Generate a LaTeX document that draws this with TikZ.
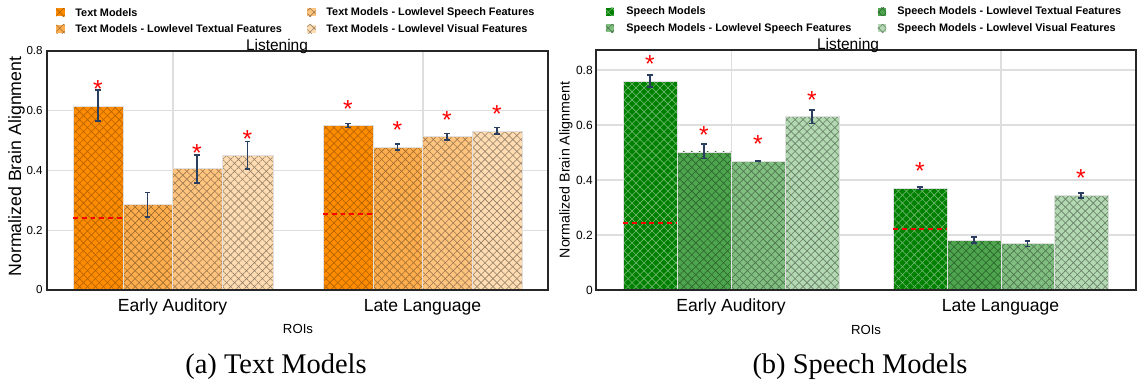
\documentclass[tikz,border=0pt]{standalone}
\usepackage{fontspec}
\setmainfont{Liberation Serif}
\setsansfont{Liberation Sans}
\usetikzlibrary{arrows.meta, patterns.meta}

\definecolor{textA}{RGB}{255,140,0}
\definecolor{textB}{RGB}{255,174,77}
\definecolor{textC}{RGB}{255,197,127}
\definecolor{textD}{RGB}{255,220,178}
\definecolor{speechA}{RGB}{0,128,0}
\definecolor{speechB}{RGB}{77,166,77}
\definecolor{speechC}{RGB}{128,191,128}
\definecolor{speechD}{RGB}{178,217,178}
\definecolor{errblue}{RGB}{42,63,95}
\definecolor{gridgray}{RGB}{222,222,222}

\newcommand{\hatchbar}[5]{%
  \fill [#4] (#1, 0) rectangle (#2, #3);
  \fill [hatchA, pattern color = #5] (#1, 0) rectangle (#2, #3);
  \fill [hatchB, pattern color = #5] (#1, 0) rectangle (#2, #3);
  \draw [barline] (#1, 0) rectangle (#2, #3);
}

\begin{document}
\begin{tikzpicture}[x = .02cm, y = -.02cm,
    hatchA/.style = {pattern = {Lines[angle = 45, distance = 3.2pt, line width = .35pt]}},
    hatchB/.style = {pattern = {Lines[angle = -45, distance = 3.2pt, line width = .35pt]}},
    barline/.style = {draw = white!88!black, line width = .5pt},
    gridline/.style = {draw = gridgray, line width = .6pt},
    plotframe/.style = {draw = black!85, line width = .6pt},
    errbar/.style = {draw = errblue, line width = 1pt, {Bar[width = 3.2pt]}-{Bar[width = 3.2pt]}},
    meanline/.style = {draw = red, line width = 1pt, dash pattern = on 2.8pt off 2.2pt},
    sig/.style = {red, inner sep = 0, anchor = base, yshift = -8.2pt, font = \sffamily\fontsize{14}{14}\selectfont},
    legmark/.style 2 args = {minimum size = 4.6pt, inner sep = 0, fill = #1,
      postaction = {hatchA, pattern color = #2}, postaction = {hatchB, pattern color = #2}},
    legtext/.style = {anchor = west, inner sep = 0, font = \sffamily\bfseries\fontsize{6.2}{7}\selectfont},
    tick/.style = {anchor = east, inner sep = 0, font = \sffamily\fontsize{#1}{8}\selectfont},
    axtitle/.style = {inner sep = 0, font = \sffamily\fontsize{#1}{12}\selectfont},
    cattext/.style = {anchor = base, inner sep = 0, font = \sffamily\fontsize{10}{12}\selectfont},
    caption/.style = {anchor = base, inner sep = 0, font = \fontsize{16.2}{18}\selectfont}]
  \useasboundingbox (0, 0) rectangle (1138, 382);

  % (a) text models
  \begin{scope}[shift = {(0, 290)}, yscale = -298.75]
    \draw [gridline] (47, .2) -- (548, .2);
    \draw [gridline] (47, .4) -- (548, .4);
    \draw [gridline] (47, .6) -- (548, .6);
    \draw [gridline] (173, 0) -- (173, .8);
    \draw [gridline] (423, 0) -- (423, .8);
    \hatchbar{73}{123}{.613}{textA}{textA!70!black}
    \hatchbar{123}{172}{.287}{textB}{textB!62!black}
    \hatchbar{172}{222}{.406}{textC}{textC!62!black}
    \hatchbar{222}{273}{.450}{textD}{textD!58!black}
    \hatchbar{323}{373}{.550}{textA}{textA!70!black}
    \hatchbar{373}{422}{.478}{textB}{textB!62!black}
    \hatchbar{422}{472}{.513}{textC}{textC!62!black}
    \hatchbar{472}{522}{.532}{textD}{textD!58!black}
    \draw [meanline] (73, .242) -- (123, .242);
    \draw [meanline] (323, .255) -- (373, .255);
    \draw [errbar] (98, .562) -- (98, .672);
    \draw [errbar] (147.5, .242) -- (147.5, .329);
    \draw [errbar] (197, .356) -- (197, .456);
    \draw [errbar] (247.5, .403) -- (247.5, .500);
    \draw [errbar] (348, .541) -- (348, .560);
    \draw [errbar] (397.5, .465) -- (397.5, .492);
    \draw [errbar] (447, .500) -- (447, .527);
    \draw [errbar] (497, .519) -- (497, .547);
    \draw [plotframe] (47, 0) rectangle (548, .8);
  \end{scope}

  \node (sa1) at (98, 83) [sig] {*};
  \node (sa3) at (197, 146.7) [sig] {*};
  \node (sa4) at (247.5, 133.3) [sig] {*};
  \node (sb1) at (348, 103.3) [sig] {*};
  \node (sb2) at (397.5, 124.3) [sig] {*};
  \node (sb3) at (447, 114) [sig] {*};
  \node (sb4) at (497, 108.3) [sig] {*};

  \node (ta0) at (43, 290) [tick = 6.6] {0};
  \node (ta2) at (43, 230.25) [tick = 6.6] {0.2};
  \node (ta4) at (43, 170.5) [tick = 6.6] {0.4};
  \node (ta6) at (43, 110.75) [tick = 6.6] {0.6};
  \node (ta8) at (43, 51) [tick = 6.6] {0.8};
  \node (ya) at (16.5, 166.5) [axtitle = 10.1, rotate = 90] {Normalized Brain Alignment};
  \node (titlea) at (277, 50) [axtitle = 8.8, anchor = base] {Listening};
  \node (ca1) at (172.5, 311) [cattext] {Early Auditory};
  \node (ca2) at (422.5, 311) [cattext] {Late Language};
  \node (xa) at (298, 333.5) [axtitle = 7.5, anchor = base] {ROIs};
  \node (capa) at (276, 373) [caption] {(a) Text Models};

  \node (la1) at (60.5, 12.3) [legmark = {textA}{textA!70!black}] {};
  \node (la2) at (60.5, 29) [legmark = {textB}{textB!62!black}] {};
  \node (la3) at (311.5, 12.3) [legmark = {textC}{textC!62!black}] {};
  \node (la4) at (311.5, 29) [legmark = {textD}{textD!58!black}] {};
  \node (lta1) at (75, 12.3) [legtext] {Text Models};
  \node (lta2) at (75, 29) [legtext] {Text Models - Lowlevel Textual Features};
  \node (lta3) at (326, 12.3) [legtext] {Text Models - Lowlevel Speech Features};
  \node (lta4) at (326, 29) [legtext] {Text Models - Lowlevel Visual Features};

  % (b) speech models
  \begin{scope}[shift = {(0, 290)}, yscale = -275]
    \draw [gridline] (596, .2) -- (1136, .2);
    \draw [gridline] (596, .4) -- (1136, .4);
    \draw [gridline] (596, .6) -- (1136, .6);
    \draw [gridline] (596, .8) -- (1136, .8);
    \draw [gridline] (731.5, 0) -- (731.5, .8727);
    \draw [gridline] (1001, 0) -- (1001, .8727);
    \hatchbar{623}{677}{.757}{speechA}{speechA!55!white}
    \hatchbar{677}{731}{.502}{speechB}{speechB!60!black}
    \hatchbar{731}{785}{.467}{speechC}{speechC!60!black}
    \hatchbar{785}{839}{.630}{speechD}{speechD!58!black}
    \hatchbar{893}{947}{.370}{speechA}{speechA!55!white}
    \hatchbar{947}{1001}{.181}{speechB}{speechB!60!black}
    \hatchbar{1001}{1054}{.168}{speechC}{speechC!60!black}
    \hatchbar{1054}{1108}{.344}{speechD}{speechD!58!black}
    \draw [meanline] (623, .245) -- (677, .245);
    \draw [meanline] (893, .222) -- (947, .222);
    \draw [errbar] (650, .736) -- (650, .784);
    \draw [errbar] (704, .475) -- (704, .533);
    \draw [errbar] (758, .466) -- (758, .472);
    \draw [errbar] (812, .602) -- (812, .658);
    \draw [errbar] (920, .362) -- (920, .379);
    \draw [errbar] (974, .168) -- (974, .195);
    \draw [errbar] (1027.5, .155) -- (1027.5, .182);
    \draw [errbar] (1081, .331) -- (1081, .357);
    \draw [plotframe] (596, 0) rectangle (1136, .8727);
  \end{scope}

  \node (sc1) at (650, 58.3) [sig] {*};
  \node (sc2) at (704, 129.3) [sig] {*};
  \node (sc3) at (758, 138.3) [sig] {*};
  \node (sc4) at (812, 94.3) [sig] {*};
  \node (sd1) at (920, 165) [sig] {*};
  \node (sd4) at (1081, 172.3) [sig] {*};

  \node (tb0) at (593, 290) [tick = 6.8] {0};
  \node (tb2) at (593, 235) [tick = 6.8] {0.2};
  \node (tb4) at (593, 180) [tick = 6.8] {0.4};
  \node (tb6) at (593, 125) [tick = 6.8] {0.6};
  \node (tb8) at (593, 70) [tick = 6.8] {0.8};
  \node (yb) at (566, 170) [axtitle = 8.1, rotate = 90] {Normalized Brain Alignment};
  \node (titleb) at (848, 49) [axtitle = 8.8, anchor = base] {Listening};
  \node (cb1) at (731, 311.5) [cattext] {Early Auditory};
  \node (cb2) at (1000.5, 311.5) [cattext] {Late Language};
  \node (xb) at (866, 334) [axtitle = 7.5, anchor = base] {ROIs};
  \node (capb) at (860, 373) [caption] {(b) Speech Models};

  \node (lb1) at (610, 11.7) [legmark = {speechA}{speechA!55!white}] {};
  \node (lb2) at (882, 11.7) [legmark = {speechB}{speechB!60!black}] {};
  \node (lb3) at (610, 28.3) [legmark = {speechC}{speechC!60!black}] {};
  \node (lb4) at (882, 28.3) [legmark = {speechD}{speechD!58!black}] {};
  \node (ltb1) at (626, 11.7) [legtext] {Speech Models};
  \node (ltb2) at (897, 11.7) [legtext] {Speech Models - Lowlevel Textual Features};
  \node (ltb3) at (626, 28.3) [legtext] {Speech Models - Lowlevel Speech Features};
  \node (ltb4) at (897, 28.3) [legtext] {Speech Models - Lowlevel Visual Features};
\end{tikzpicture}
\end{document}
